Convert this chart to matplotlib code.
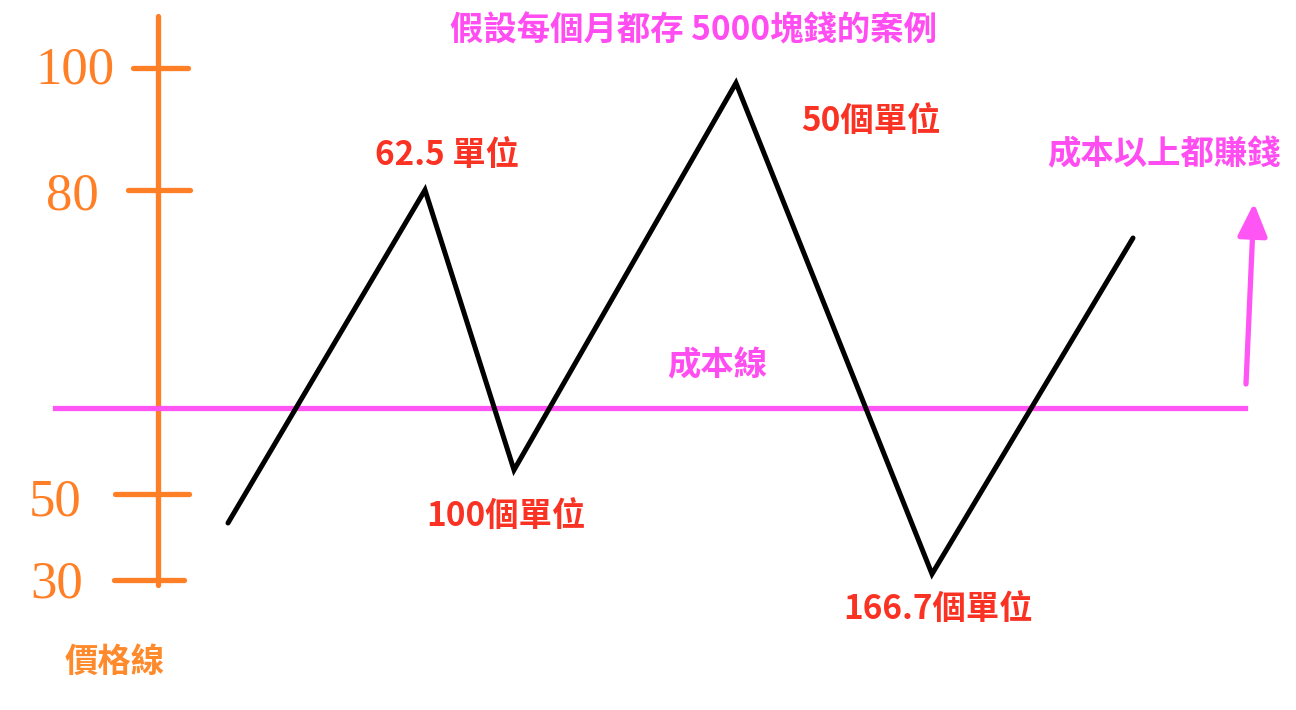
import matplotlib
matplotlib.use("Agg")
import matplotlib.pyplot as plt

plt.rcParams['font.family'] = ['Noto Sans CJK TC', 'DejaVu Sans']

# zigzag price path (pixel-like units, y grows downward)
price_x = [228, 425, 514, 736, 932, 1133]
price_y = [523, 190, 470, 83, 574, 238]

# orange price axis
axis_x = 158
axis_top, axis_bottom = 16, 585
tick_labels = ["100", "80", "50", "30"]
tick_y = [68, 190, 494, 580]
tick_left = [133, 128, 115, 114]
tick_right = [188, 190, 189, 184]
label_x = [75, 72, 55, 57]
label_y = [70, 196, 502, 584]

# cost line
cost_y = 408
cost_x0, cost_x1 = 55, 1245

# unit annotations
unit_texts = ["62.5 單位", "100個單位", "50個單位", "166.7個單位"]
unit_x = [447, 506, 871, 938]
unit_y = [155, 517, 122, 610]

orange = '#FF7F27'
orange_txt = '#FF8A2C'
pink = '#FF55F5'
pink_txt = '#FF4DF2'
red = '#F93223'

fig = plt.figure(figsize=(12.96, 7.10), dpi=100)
ax = fig.add_axes([0, 0, 1, 1])
ax.set_xlim(0, 1296)
ax.set_ylim(710, 0)
ax.axis('off')

# price axis with hand-drawn ticks
ax.plot([axis_x, axis_x], [axis_top, axis_bottom], color=orange, lw=3.8,
        solid_capstyle='round')
for lbl, y, x0, x1, lx, ly in zip(tick_labels, tick_y, tick_left, tick_right,
                                  label_x, label_y):
    ax.plot([x0, x1], [y, y], color=orange, lw=3.8, solid_capstyle='round')
    ax.text(lx, ly, lbl, color=orange, fontsize=38, family='Liberation Serif',
            ha='center', va='center')
ax.text(115, 662, "價格線", color=orange_txt, fontsize=24, fontweight='bold',
        ha='center', va='center')

# cost line and arrow
ax.plot([cost_x0, cost_x1], [cost_y, cost_y], color=pink, lw=3.8)
ax.text(717, 366, "成本線", color=pink_txt, fontsize=24, fontweight='bold',
        ha='center', va='center')
ax.annotate("", xy=(1254, 203), xytext=(1246, 384),
            arrowprops=dict(arrowstyle='-|>,head_length=2.0,head_width=0.9',
                            color=pink, lw=3.8, shrinkA=0, shrinkB=0))
ax.text(1164, 155, "成本以上都賺錢", color=pink_txt, fontsize=24,
        fontweight='bold', ha='center', va='center')

# price path
ax.plot(price_x, price_y, color='black', lw=3.6, solid_joinstyle='miter',
        solid_capstyle='round')

for t, x, y in zip(unit_texts, unit_x, unit_y):
    ax.text(x, y, t, color=red, fontsize=24, fontweight='bold',
            ha='center', va='center')

ax.text(693, 31, "假設每個月都存 5000塊錢的案例", color=pink_txt, fontsize=24,
        fontweight='bold', ha='center', va='center')

fig.savefig("out.png", dpi=100, facecolor='white')
